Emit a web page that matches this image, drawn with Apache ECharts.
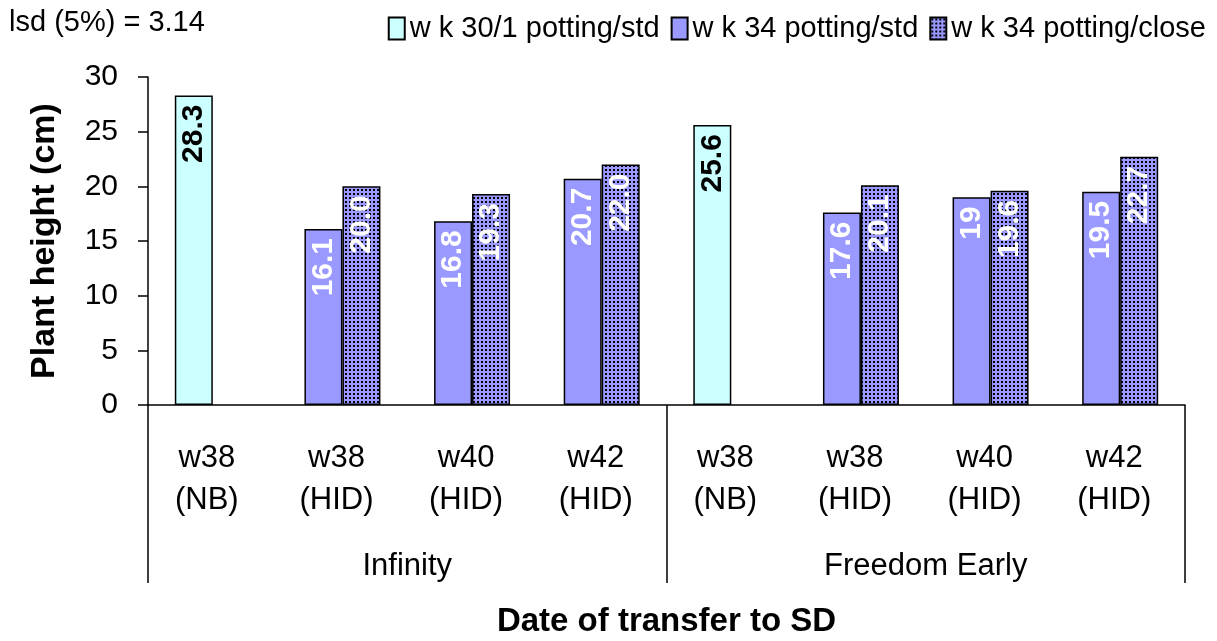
<!DOCTYPE html>
<html>
<head>
<meta charset="utf-8">
<script src="https://cdn.jsdelivr.net/npm/echarts@6/dist/echarts.min.js"></script>
<style>
  html, body { margin: 0; padding: 0; background: #ffffff; }
  #chart { width: 1217px; height: 641px; }
</style>
</head>
<body>
<div id="chart"></div>
<script>
// Categories: transfer week (and lighting) within each cultivar
const weekLabels = ['w38\n(NB)', 'w38\n(HID)', 'w40\n(HID)', 'w42\n(HID)',
                    'w38\n(NB)', 'w38\n(HID)', 'w40\n(HID)', 'w42\n(HID)'];
const cultivars = ['Infinity', 'Freedom Early'];

// Plant height (cm); values kept as written on the bars
const wk30Std   = ['28.3', '-', '-', '-', '25.6', '-', '-', '-'];
const wk34Std   = ['-', '16.1', '16.8', '20.7', '-', '17.6', '19', '19.5'];
const wk34Close = ['-', '20.0', '19.3', '22.0', '-', '20.1', '19.6', '22.7'];

const seriesNames = ['w k 30/1 potting/std', 'w k 34 potting/std', 'w k 34 potting/close'];
const yTicks = { min: 0, max: 30, interval: 5 };
const lsdText = 'lsd (5%) = 3.14';

const FONT = '"Liberation Sans", Arial, sans-serif';

// dotted fill for the close-spacing bars
function dotPattern() {
  const c = document.createElement('canvas');
  c.width = 4; c.height = 4;
  const g = c.getContext('2d');
  g.fillStyle = '#9999ff';
  g.fillRect(0, 0, 4, 4);
  g.fillStyle = '#000000';
  g.fillRect(1, 1, 2, 2);
  return c;
}

const labelText = p => (typeof p.data === 'string' ? p.data : String(p.value));

function valueLabel(color) {
  return {
    show: true,
    position: 'insideTop',
    rotate: 90,
    align: 'right',
    verticalAlign: 'middle',
    distance: 9,
    color: color,
    fontFamily: FONT,
    fontWeight: 'bold',
    fontSize: 30,
    formatter: labelText
  };
}

const chart = echarts.init(document.getElementById('chart'), null, { renderer: 'canvas' });

chart.setOption({
  animation: false,
  backgroundColor: '#ffffff',
  title: {
    text: lsdText,
    left: 4,
    top: 3,
    textStyle: { fontFamily: FONT, fontWeight: 'normal', fontSize: 29, color: '#000' }
  },
  legend: {
    data: seriesNames,
    icon: 'rect',
    right: 6,
    top: 9,
    itemWidth: 16,
    itemHeight: 22,
    itemGap: 11,
    textStyle: { fontFamily: FONT, fontSize: 29, color: '#000' }
  },
  grid: { left: 148, right: 32, top: 77, bottom: 236, containLabel: false, outerBoundsMode: 'none' },
  xAxis: [
    {
      type: 'category',
      data: weekLabels,
      position: 'bottom',
      axisLine: { show: true, lineStyle: { color: '#000', width: 1.5 } },
      axisTick: { show: false },
      axisLabel: {
        margin: 32,
        lineHeight: 42,
        fontFamily: FONT,
        fontSize: 31,
        color: '#000',
        padding: [0, 12, 0, 0]
      }
    },
    {
      type: 'category',
      data: cultivars,
      position: 'bottom',
      offset: 0,
      boundaryGap: true,
      axisLine: { show: false },
      axisTick: { show: true, length: 178, lineStyle: { color: '#000', width: 1.5 } },
      axisLabel: {
        margin: 146,
        fontFamily: FONT,
        fontSize: 31,
        color: '#000'
      },
      name: 'Date of transfer to SD',
      nameLocation: 'middle',
      nameGap: 200,
      nameTextStyle: { fontFamily: FONT, fontWeight: 'bold', fontSize: 33, color: '#000', verticalAlign: 'top' }
    }
  ],
  yAxis: {
    type: 'value',
    min: yTicks.min,
    max: yTicks.max,
    interval: yTicks.interval,
    splitLine: { show: false },
    axisLine: { show: true, lineStyle: { color: '#000', width: 1.5 } },
    axisTick: { show: true, length: 10, lineStyle: { color: '#000', width: 1.5 } },
    axisLabel: { margin: 30, fontFamily: FONT, fontSize: 30, color: '#000' },
    name: 'Plant height (cm)',
    nameLocation: 'middle',
    nameGap: 86,
    nameTextStyle: { fontFamily: FONT, fontWeight: 'bold', fontSize: 34, color: '#000' }
  },
  series: [
    {
      name: seriesNames[0],
      type: 'bar',
      stack: 'std',
      xAxisIndex: 0,
      barWidth: 38,
      data: wk30Std,
      itemStyle: { color: '#ccffff', borderColor: '#000', borderWidth: 1.5 },
      label: valueLabel('#000')
    },
    {
      name: seriesNames[1],
      type: 'bar',
      stack: 'std',
      xAxisIndex: 0,
      barWidth: 38,
      barGap: '0%',
      data: wk34Std,
      itemStyle: { color: '#9999ff', borderColor: '#000', borderWidth: 1.5 },
      label: valueLabel('#fff')
    },
    {
      name: seriesNames[2],
      type: 'bar',
      xAxisIndex: 0,
      barWidth: 38,
      barGap: '0%',
      data: wk34Close,
      itemStyle: { color: { image: dotPattern(), repeat: 'repeat' }, borderColor: '#000', borderWidth: 1.5 },
      label: valueLabel('#fff')
    }
  ]
});
</script>
</body>
</html>
